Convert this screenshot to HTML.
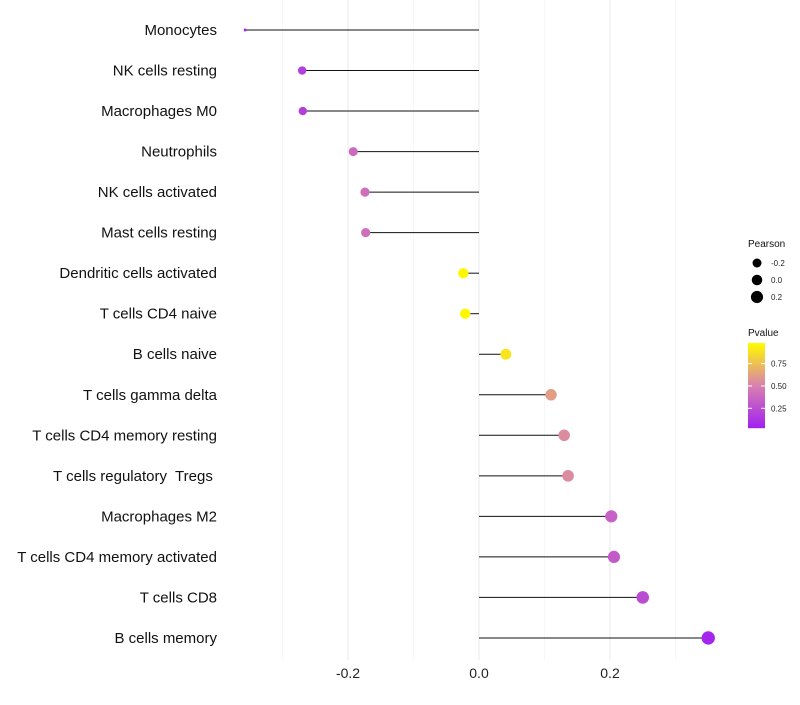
<!DOCTYPE html>
<html><head><meta charset="utf-8"><style>
body{margin:0;background:#fff;font-family:"Liberation Sans",sans-serif}
svg text{font-family:"Liberation Sans",sans-serif;white-space:pre}
</style></head><body>
<svg id="c" width="800" height="700"></svg>
<script>
const categories=["Monocytes","NK cells resting","Macrophages M0","Neutrophils","NK cells activated","Mast cells resting","Dendritic cells activated","T cells CD4 naive","B cells naive","T cells gamma delta","T cells CD4 memory resting","T cells regulatory  Tregs ","Macrophages M2","T cells CD4 memory activated","T cells CD8","B cells memory"];
const pearson=[-0.357,-0.270,-0.269,-0.192,-0.174,-0.173,-0.024,-0.021,0.041,0.110,0.130,0.136,0.202,0.206,0.250,0.350];
const pvalues=[0.08,0.18,0.18,0.40,0.42,0.42,0.97,0.97,0.90,0.62,0.55,0.55,0.35,0.32,0.25,0.06];
const xTicks=[-0.2,0.0,0.2];
const xTickLabels=["-0.2","0.0","0.2"];
const xMinor=[-0.3,-0.1,0.1,0.3];
const cbTicks=[0.25,0.5,0.75];
const sizeLegend=[-0.2,0.0,0.2];

const NS="http://www.w3.org/2000/svg";
const svg=document.getElementById('c');
function mk(t,a,p){const e=document.createElementNS(NS,t);for(const k in a)e.setAttribute(k,a[k]);(p||svg).appendChild(e);return e;}
const x=v=>479+v*655;
const y=i=>30+i*40.53;
const rad=v=>v>=-0.27?4.2+(v+0.27)*4:Math.max(1.5,4.2-(-0.27-v)*31);
function lerp(a,b,t){return a.map((c,i)=>Math.round(c+(b[i]-c)*t));}
function col(p){const s=[[160,32,240],[216,128,176],[255,250,0]];const t=Math.max(0,Math.min(1,(p-0.03)/0.95));
 const c=t<0.5?lerp(s[0],s[1],t*2):lerp(s[1],s[2],(t-0.5)*2);return 'rgb('+c.join(',')+')';}

xMinor.forEach(v=>{const l=mk('line',{x1:x(v),x2:x(v),y1:0,y2:660,stroke:'#f2f2f2','stroke-width':0.6});
});
xTicks.forEach((v,i)=>{const l=mk('line',{x1:x(v),x2:x(v),y1:0,y2:660,stroke:'#ebebeb','stroke-width':1.1});

const t=mk('text',{x:x(v),y:678,'text-anchor':'middle','font-size':14,fill:'#222'});t.textContent=xTickLabels[i];
});

categories.forEach((c,i)=>{
 const t=mk('text',{x:217,y:y(i)+5,'text-anchor':'end','font-size':15,fill:'#111'});t.textContent=c;
 
 const l=mk('line',{x1:x(0),x2:x(pearson[i]),y1:y(i),y2:y(i),stroke:'#111','stroke-width':1});
 
 const d=mk('circle',{cx:x(pearson[i]),cy:y(i),r:rad(pearson[i]),fill:col(pvalues[i])});
 
});

const lg=mk('g',{});
const lt=mk('text',{x:748,y:247,'font-size':10,fill:'#111'},lg);lt.textContent='Pearson';
sizeLegend.forEach((v,i)=>{mk('circle',{cx:757,cy:263+i*17,r:rad(v),fill:'#000'},lg);
 const t=mk('text',{x:771,y:266+i*17,'font-size':8,fill:'#222'},lg);t.textContent=v.toFixed(1);});

const cg=mk('g',{});
const ct=mk('text',{x:748,y:336,'font-size':10,fill:'#111'},cg);ct.textContent='Pvalue';
const cbTop=343,cbBot=428;
for(let k=0;k<85;k++){const p=0.98-(k/85)*0.95;mk('rect',{x:748,y:cbTop+k,width:17,height:1.2,fill:col(p)},cg);}
const cy=p=>cbTop+(0.98-p)/0.95*(cbBot-cbTop);
cbTicks.forEach(p=>{mk('line',{x1:748,x2:752,y1:cy(p),y2:cy(p),stroke:'#fff'},cg);mk('line',{x1:761,x2:765,y1:cy(p),y2:cy(p),stroke:'#fff'},cg);
 const t=mk('text',{x:771,y:cy(p)+3,'font-size':8,fill:'#222'},cg);t.textContent=p.toFixed(2);});
</script>
</body></html>
